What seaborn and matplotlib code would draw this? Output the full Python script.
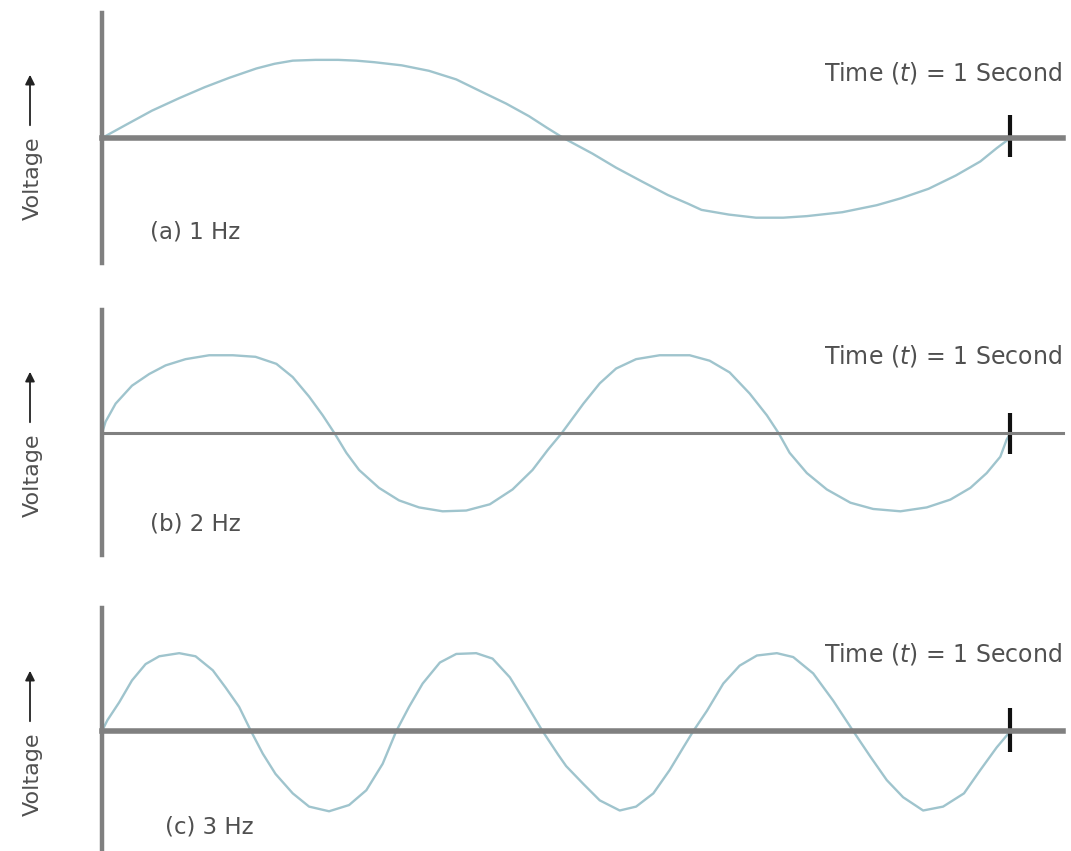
"""Sine waves of 1, 2 and 3 Hz drawn over one second."""

import matplotlib.pyplot as plt
import pandas as pd
import seaborn as sns

# values (time in s, voltage normalised to peak = 1)
t_1hz = [0, 0.025, 0.055, 0.085, 0.113, 0.14, 0.17, 0.19, 0.21, 0.235, 0.26, 0.28,
         0.30, 0.33, 0.36, 0.39, 0.42, 0.445, 0.47, 0.49, 0.508, 0.54, 0.566, 0.595,
         0.623, 0.645, 0.66, 0.69, 0.72, 0.75, 0.776, 0.815, 0.853, 0.88, 0.91, 0.94,
         0.967, 0.985, 1.0]
v_1hz = [0, 0.16, 0.35, 0.51, 0.65, 0.77, 0.89, 0.95, 0.99, 1.0, 1.0, 0.99,
         0.97, 0.93, 0.86, 0.75, 0.58, 0.44, 0.28, 0.13, 0, -0.2, -0.38, -0.56,
         -0.73, -0.84, -0.92, -0.98, -1.02, -1.02, -1.0, -0.95, -0.86, -0.77, -0.65,
         -0.48, -0.30, -0.13, 0]

t_2hz = [0, 0.004, 0.015, 0.033, 0.052, 0.07, 0.092, 0.118, 0.144, 0.169, 0.192,
         0.21, 0.228, 0.243, 0.256, 0.269, 0.283, 0.305, 0.327, 0.349, 0.375, 0.401,
         0.427, 0.452, 0.474, 0.491, 0.506, 0.53, 0.548, 0.566, 0.588, 0.614, 0.647,
         0.669, 0.691, 0.713, 0.732, 0.745, 0.757, 0.776, 0.798, 0.824, 0.849, 0.879,
         0.908, 0.934, 0.956, 0.974, 0.989, 0.996, 1.0]
v_2hz = [0, 0.15, 0.38, 0.61, 0.76, 0.87, 0.95, 1.0, 1.0, 0.98, 0.89,
         0.72, 0.47, 0.23, 0, -0.25, -0.47, -0.70, -0.86, -0.95, -1.0, -0.99,
         -0.91, -0.72, -0.47, -0.21, 0, 0.38, 0.64, 0.83, 0.95, 1.0, 1.0,
         0.93, 0.78, 0.51, 0.23, 0, -0.25, -0.51, -0.72, -0.89, -0.97, -1.0,
         -0.95, -0.85, -0.70, -0.51, -0.30, -0.08, 0]

t_3hz = [0, 0.006, 0.019, 0.033, 0.048, 0.063, 0.085, 0.103, 0.122, 0.136, 0.151,
         0.164, 0.177, 0.191, 0.21, 0.228, 0.25, 0.272, 0.291, 0.309, 0.324, 0.338,
         0.353, 0.372, 0.39, 0.412, 0.43, 0.449, 0.467, 0.485, 0.502, 0.511, 0.53,
         0.548, 0.57, 0.588, 0.607, 0.625, 0.64, 0.651, 0.666, 0.684, 0.702, 0.721,
         0.743, 0.761, 0.783, 0.805, 0.827, 0.846, 0.864, 0.882, 0.904, 0.926, 0.949,
         0.967, 0.985, 0.998, 1.0]
v_3hz = [0, 0.14, 0.37, 0.65, 0.86, 0.96, 1.0, 0.96, 0.78, 0.56, 0.31,
         0, -0.29, -0.55, -0.80, -0.97, -1.03, -0.95, -0.76, -0.42, 0, 0.31,
         0.61, 0.88, 0.99, 1.0, 0.93, 0.69, 0.35, 0, -0.30, -0.45, -0.68,
         -0.89, -1.02, -0.97, -0.80, -0.50, -0.21, 0, 0.26, 0.61, 0.84, 0.97,
         1.0, 0.95, 0.74, 0.39, 0, -0.33, -0.63, -0.85, -1.02, -0.97, -0.80,
         -0.50, -0.21, -0.03, 0]

panel_labels = ["(a) 1 Hz", "(b) 2 Hz", "(c) 3 Hz"]
time_label = r"Time ($t$) = 1 Second"
y_label = "Voltage"
duration = 1.0

W, H = 1071, 851
WAVE = "#9fc4cd"
AXIS = "#808080"
TEXT = "#505050"

# per panel: axes box in pixels (top, bottom), ylim, axis widths, tick extent,
# label positions (pixels from top-left)
panels = [
    dict(t=t_1hz, v=v_1hz, top=13, bottom=263, ylim=(-1.60, 1.60), hw=4.0,
         tick=(-0.24, 0.29), lab=(150, 232), time_y=73, volt_y=178),
    dict(t=t_2hz, v=v_2hz, top=310, bottom=555, ylim=(-1.56, 1.58), hw=2.2,
         tick=(-0.26, 0.26), lab=(150, 524), time_y=356, volt_y=475),
    dict(t=t_3hz, v=v_3hz, top=608, bottom=851, ylim=(-1.54, 1.58), hw=4.0,
         tick=(-0.27, 0.29), lab=(165, 827), time_y=654, volt_y=774),
]

sns.set_theme(style="white")
plt.rcParams["font.family"] = ["DejaVu Sans"]
plt.rcParams["mathtext.fontset"] = "dejavusans"

fig = plt.figure(figsize=(W / 100, H / 100), dpi=100)

for p, label in zip(panels, panel_labels):
    ax = fig.add_axes([102 / W, 1 - p["bottom"] / H, 961 / W,
                       (p["bottom"] - p["top"]) / H])
    df = pd.DataFrame({"time": p["t"], "voltage": p["v"]})
    sns.lineplot(data=df, x="time", y="voltage", ax=ax, color=WAVE, lw=1.7,
                 sort=False, estimator=None, solid_joinstyle="round")
    ax.set_xlim(0, 1.058)
    ax.set_ylim(*p["ylim"])
    ax.set_xticks([])
    ax.set_yticks([])
    ax.set_xlabel("")
    ax.set_ylabel("")
    ax.patch.set_alpha(0)
    for side in ("top", "right"):
        ax.spines[side].set_visible(False)
    ax.spines["left"].set_position(("data", 0))
    ax.spines["left"].set_linewidth(3.2)
    ax.spines["left"].set_color(AXIS)
    ax.spines["bottom"].set_position(("data", 0))
    ax.spines["bottom"].set_linewidth(p["hw"])
    ax.spines["bottom"].set_color(AXIS)
    ax.vlines(duration, *p["tick"], color="#111111", lw=3)

    ax.annotate(label, xy=(p["lab"][0], H - p["lab"][1]), xycoords="figure pixels",
                ha="left", va="center", fontsize=16.5, color=TEXT)
    ax.annotate(time_label, xy=(1062, H - p["time_y"]), xycoords="figure pixels",
                ha="right", va="center", fontsize=17, color=TEXT)
    ax.annotate(y_label, xy=(33, H - p["volt_y"]), xycoords="figure pixels",
                ha="center", va="center", rotation=90, fontsize=16, color=TEXT)
    ax.annotate("", xy=(30, H - (p["volt_y"] - 106)),
                xytext=(30, H - (p["volt_y"] - 50)), xycoords="figure pixels",
                arrowprops=dict(arrowstyle="-|>", color="#222222", lw=1.3,
                                mutation_scale=14))

fig.savefig("out.png", dpi=100)
